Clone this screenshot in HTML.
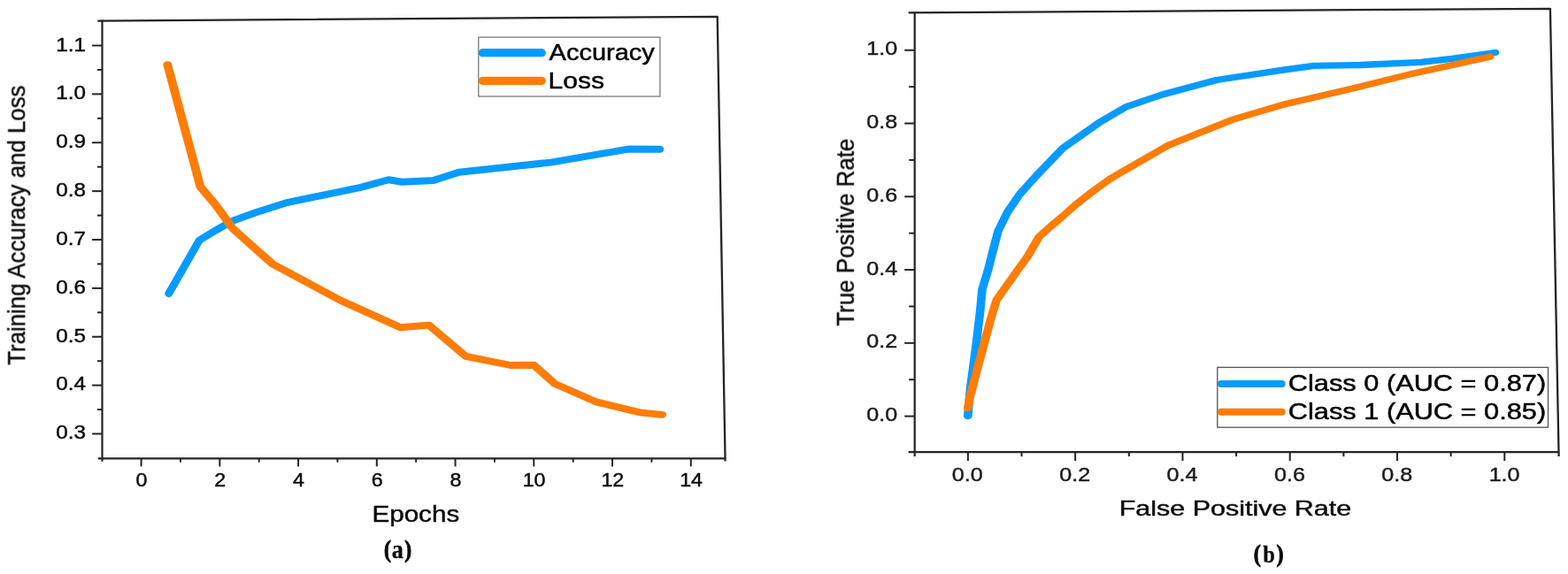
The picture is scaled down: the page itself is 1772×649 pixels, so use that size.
<!DOCTYPE html>
<html lang="en">
<head>
<meta charset="utf-8">
<title>Training accuracy/loss and ROC curves</title>
<style>
html,body{margin:0;padding:0;background:#fff;}
body{width:1772px;height:649px;overflow:hidden;}
svg{display:block;}
text{white-space:pre;}
</style>
</head>
<body>
<svg width="1772" height="649" viewBox="0 0 1772 649">
<rect x="0" y="0" width="1772" height="649" fill="#ffffff"/>
<g id="fig" style="filter:blur(0.45px)">
<line x1="115.50" y1="22.60" x2="115.50" y2="521.80" stroke="#242424" stroke-width="2.2" stroke-linecap="butt"/>
<line x1="110.70" y1="518.40" x2="820.10" y2="518.40" stroke="#242424" stroke-width="2.4" stroke-linecap="butt"/>
<polyline points="110.30,23.60 810.70,18.80 819.60,521.60" fill="none" stroke="#242424" stroke-width="2.3" stroke-linejoin="round"/>
<line x1="104.10" y1="490.50" x2="115.50" y2="490.50" stroke="#242424" stroke-width="2" stroke-linecap="butt"/>
<line x1="110.00" y1="463.06" x2="115.50" y2="463.06" stroke="#242424" stroke-width="2" stroke-linecap="butt"/>
<line x1="104.10" y1="435.62" x2="115.50" y2="435.62" stroke="#242424" stroke-width="2" stroke-linecap="butt"/>
<line x1="110.00" y1="408.19" x2="115.50" y2="408.19" stroke="#242424" stroke-width="2" stroke-linecap="butt"/>
<line x1="104.10" y1="380.75" x2="115.50" y2="380.75" stroke="#242424" stroke-width="2" stroke-linecap="butt"/>
<line x1="110.00" y1="353.31" x2="115.50" y2="353.31" stroke="#242424" stroke-width="2" stroke-linecap="butt"/>
<line x1="104.10" y1="325.87" x2="115.50" y2="325.87" stroke="#242424" stroke-width="2" stroke-linecap="butt"/>
<line x1="110.00" y1="298.44" x2="115.50" y2="298.44" stroke="#242424" stroke-width="2" stroke-linecap="butt"/>
<line x1="104.10" y1="271.00" x2="115.50" y2="271.00" stroke="#242424" stroke-width="2" stroke-linecap="butt"/>
<line x1="110.00" y1="243.56" x2="115.50" y2="243.56" stroke="#242424" stroke-width="2" stroke-linecap="butt"/>
<line x1="104.10" y1="216.12" x2="115.50" y2="216.12" stroke="#242424" stroke-width="2" stroke-linecap="butt"/>
<line x1="110.00" y1="188.69" x2="115.50" y2="188.69" stroke="#242424" stroke-width="2" stroke-linecap="butt"/>
<line x1="104.10" y1="161.25" x2="115.50" y2="161.25" stroke="#242424" stroke-width="2" stroke-linecap="butt"/>
<line x1="110.00" y1="133.81" x2="115.50" y2="133.81" stroke="#242424" stroke-width="2" stroke-linecap="butt"/>
<line x1="104.10" y1="106.38" x2="115.50" y2="106.38" stroke="#242424" stroke-width="2" stroke-linecap="butt"/>
<line x1="110.00" y1="78.94" x2="115.50" y2="78.94" stroke="#242424" stroke-width="2" stroke-linecap="butt"/>
<line x1="104.10" y1="51.50" x2="115.50" y2="51.50" stroke="#242424" stroke-width="2" stroke-linecap="butt"/>
<line x1="159.60" y1="518.40" x2="159.60" y2="527.40" stroke="#242424" stroke-width="2" stroke-linecap="butt"/>
<line x1="248.34" y1="518.40" x2="248.34" y2="527.40" stroke="#242424" stroke-width="2" stroke-linecap="butt"/>
<line x1="337.08" y1="518.40" x2="337.08" y2="527.40" stroke="#242424" stroke-width="2" stroke-linecap="butt"/>
<line x1="425.82" y1="518.40" x2="425.82" y2="527.40" stroke="#242424" stroke-width="2" stroke-linecap="butt"/>
<line x1="514.56" y1="518.40" x2="514.56" y2="527.40" stroke="#242424" stroke-width="2" stroke-linecap="butt"/>
<line x1="603.30" y1="518.40" x2="603.30" y2="527.40" stroke="#242424" stroke-width="2" stroke-linecap="butt"/>
<line x1="692.04" y1="518.40" x2="692.04" y2="527.40" stroke="#242424" stroke-width="2" stroke-linecap="butt"/>
<line x1="780.78" y1="518.40" x2="780.78" y2="527.40" stroke="#242424" stroke-width="2" stroke-linecap="butt"/>
<line x1="203.97" y1="518.40" x2="203.97" y2="522.70" stroke="#242424" stroke-width="2" stroke-linecap="butt"/>
<line x1="292.71" y1="518.40" x2="292.71" y2="522.70" stroke="#242424" stroke-width="2" stroke-linecap="butt"/>
<line x1="381.45" y1="518.40" x2="381.45" y2="522.70" stroke="#242424" stroke-width="2" stroke-linecap="butt"/>
<line x1="470.19" y1="518.40" x2="470.19" y2="522.70" stroke="#242424" stroke-width="2" stroke-linecap="butt"/>
<line x1="558.93" y1="518.40" x2="558.93" y2="522.70" stroke="#242424" stroke-width="2" stroke-linecap="butt"/>
<line x1="647.67" y1="518.40" x2="647.67" y2="522.70" stroke="#242424" stroke-width="2" stroke-linecap="butt"/>
<line x1="736.41" y1="518.40" x2="736.41" y2="522.70" stroke="#242424" stroke-width="2" stroke-linecap="butt"/>
<text transform="translate(63.19 496.19) scale(1.1319 1)" font-size="21.41" font-family="'Liberation Sans', Arial, sans-serif" fill="#0c0c0c" stroke="#0c0c0c" stroke-width="0.45" >0.3</text>
<text transform="translate(63.19 441.36) scale(1.1319 1)" font-size="21.41" font-family="'Liberation Sans', Arial, sans-serif" fill="#0c0c0c" stroke="#0c0c0c" stroke-width="0.45" >0.4</text>
<text transform="translate(63.19 386.54) scale(1.1319 1)" font-size="21.41" font-family="'Liberation Sans', Arial, sans-serif" fill="#0c0c0c" stroke="#0c0c0c" stroke-width="0.45" >0.5</text>
<text transform="translate(63.19 331.71) scale(1.1319 1)" font-size="21.41" font-family="'Liberation Sans', Arial, sans-serif" fill="#0c0c0c" stroke="#0c0c0c" stroke-width="0.45" >0.6</text>
<text transform="translate(63.19 276.89) scale(1.1319 1)" font-size="21.41" font-family="'Liberation Sans', Arial, sans-serif" fill="#0c0c0c" stroke="#0c0c0c" stroke-width="0.45" >0.7</text>
<text transform="translate(63.19 222.06) scale(1.1319 1)" font-size="21.41" font-family="'Liberation Sans', Arial, sans-serif" fill="#0c0c0c" stroke="#0c0c0c" stroke-width="0.45" >0.8</text>
<text transform="translate(63.19 167.24) scale(1.1319 1)" font-size="21.41" font-family="'Liberation Sans', Arial, sans-serif" fill="#0c0c0c" stroke="#0c0c0c" stroke-width="0.45" >0.9</text>
<text transform="translate(63.19 112.41) scale(1.1319 1)" font-size="21.41" font-family="'Liberation Sans', Arial, sans-serif" fill="#0c0c0c" stroke="#0c0c0c" stroke-width="0.45" >1.0</text>
<text transform="translate(63.19 57.59) scale(1.1319 1)" font-size="21.41" font-family="'Liberation Sans', Arial, sans-serif" fill="#0c0c0c" stroke="#0c0c0c" stroke-width="0.45" >1.1</text>
<text transform="translate(153.44 550.27) scale(1.0831 1)" font-size="21.45" font-family="'Liberation Sans', Arial, sans-serif" fill="#0c0c0c" stroke="#0c0c0c" stroke-width="0.45" >0</text>
<text transform="translate(242.18 550.27) scale(1.0831 1)" font-size="21.45" font-family="'Liberation Sans', Arial, sans-serif" fill="#0c0c0c" stroke="#0c0c0c" stroke-width="0.45" >2</text>
<text transform="translate(330.92 550.27) scale(1.0831 1)" font-size="21.45" font-family="'Liberation Sans', Arial, sans-serif" fill="#0c0c0c" stroke="#0c0c0c" stroke-width="0.45" >4</text>
<text transform="translate(419.66 550.27) scale(1.0831 1)" font-size="21.45" font-family="'Liberation Sans', Arial, sans-serif" fill="#0c0c0c" stroke="#0c0c0c" stroke-width="0.45" >6</text>
<text transform="translate(508.40 550.27) scale(1.0831 1)" font-size="21.45" font-family="'Liberation Sans', Arial, sans-serif" fill="#0c0c0c" stroke="#0c0c0c" stroke-width="0.45" >8</text>
<text transform="translate(590.68 550.27) scale(1.0831 1)" font-size="21.45" font-family="'Liberation Sans', Arial, sans-serif" fill="#0c0c0c" stroke="#0c0c0c" stroke-width="0.45" >10</text>
<text transform="translate(679.42 550.27) scale(1.0831 1)" font-size="21.45" font-family="'Liberation Sans', Arial, sans-serif" fill="#0c0c0c" stroke="#0c0c0c" stroke-width="0.45" >12</text>
<text transform="translate(768.16 550.27) scale(1.0831 1)" font-size="21.45" font-family="'Liberation Sans', Arial, sans-serif" fill="#0c0c0c" stroke="#0c0c0c" stroke-width="0.45" >14</text>
<text transform="translate(420.42 589.73) scale(1.1737 1)" font-size="25.25" font-family="'Liberation Sans', Arial, sans-serif" fill="#0c0c0c" stroke="#0c0c0c" stroke-width="0.45" >Epochs</text>
<text transform="translate(28.20 412.76) rotate(-90) scale(0.9618 1)" font-size="26.86" font-family="'Liberation Sans', Arial, sans-serif" fill="#0c0c0c" stroke="#0c0c0c" stroke-width="0.45">Training Accuracy and Loss</text>
<text transform="translate(0 630.60) scale(0.8800 1)" y="0" font-family="'Liberation Serif', 'Times New Roman', serif" font-weight="bold" fill="#0c0c0c" stroke="#0c0c0c"><tspan x="493.22" dy="-0.40" font-size="26.80" stroke-width="1.0">(</tspan><tspan x="503.14" dy="0.40" font-size="29.80" stroke-width="0.3">a</tspan><tspan x="519.54" dy="-0.40" font-size="26.80" stroke-width="1.0">)</tspan></text>
<polyline transform="scale(1.13 1)" points="168.76,332.00 199.29,271.80 215.93,260.30 231.15,250.40 255.13,240.50 285.75,229.40 360.71,211.90 388.50,203.20 401.95,205.80 433.45,204.10 458.94,194.70 550.88,183.60 628.32,168.60 660.00,168.80" fill="none" stroke="#079bff" stroke-width="8.0" stroke-linecap="round" stroke-linejoin="round"/>
<polyline transform="scale(1.24 1)" points="152.66,73.10 182.66,211.30 196.77,232.00 211.69,257.80 230.56,278.80 248.47,298.50 310.08,339.50 364.92,370.30 390.89,367.60 424.44,402.90 465.40,413.00 486.53,412.80 505.65,433.90 543.23,454.40 582.82,466.30 603.31,468.80" fill="none" stroke="#ff7c06" stroke-width="7.9" stroke-linecap="round" stroke-linejoin="round"/>
<rect x="540.8" y="42.1" width="205.1" height="66.9" fill="#fff" stroke="#6e6e6e" stroke-width="1.2"/>
<line x1="545.30" y1="59.70" x2="612.20" y2="59.70" stroke="#079bff" stroke-width="9.2" stroke-linecap="round"/>
<line x1="545.30" y1="91.30" x2="612.20" y2="91.30" stroke="#ff7c06" stroke-width="9.2" stroke-linecap="round"/>
<text transform="translate(620.57 67.95) scale(1.0882 1)" font-size="26.65" font-family="'Liberation Sans', Arial, sans-serif" fill="#000" stroke="#000" stroke-width="0.45" >Accuracy</text>
<text transform="translate(619.58 99.81) scale(1.1349 1)" font-size="26.45" font-family="'Liberation Sans', Arial, sans-serif" fill="#000" stroke="#000" stroke-width="0.45" >Loss</text>
<line x1="1033.70" y1="13.40" x2="1033.70" y2="515.90" stroke="#242424" stroke-width="2.2" stroke-linecap="butt"/>
<line x1="1026.70" y1="511.10" x2="1762.10" y2="511.10" stroke="#242424" stroke-width="2.3" stroke-linecap="butt"/>
<polyline points="1026.70,14.40 1751.90,9.80 1761.60,515.90" fill="none" stroke="#242424" stroke-width="2.3" stroke-linejoin="round"/>
<line x1="1022.20" y1="470.60" x2="1033.70" y2="470.60" stroke="#242424" stroke-width="2" stroke-linecap="butt"/>
<line x1="1093.90" y1="511.10" x2="1093.90" y2="521.10" stroke="#242424" stroke-width="2" stroke-linecap="butt"/>
<line x1="1022.20" y1="387.83" x2="1033.70" y2="387.83" stroke="#242424" stroke-width="2" stroke-linecap="butt"/>
<line x1="1215.18" y1="511.10" x2="1215.18" y2="521.10" stroke="#242424" stroke-width="2" stroke-linecap="butt"/>
<line x1="1022.20" y1="305.06" x2="1033.70" y2="305.06" stroke="#242424" stroke-width="2" stroke-linecap="butt"/>
<line x1="1336.46" y1="511.10" x2="1336.46" y2="521.10" stroke="#242424" stroke-width="2" stroke-linecap="butt"/>
<line x1="1022.20" y1="222.29" x2="1033.70" y2="222.29" stroke="#242424" stroke-width="2" stroke-linecap="butt"/>
<line x1="1457.74" y1="511.10" x2="1457.74" y2="521.10" stroke="#242424" stroke-width="2" stroke-linecap="butt"/>
<line x1="1022.20" y1="139.52" x2="1033.70" y2="139.52" stroke="#242424" stroke-width="2" stroke-linecap="butt"/>
<line x1="1579.02" y1="511.10" x2="1579.02" y2="521.10" stroke="#242424" stroke-width="2" stroke-linecap="butt"/>
<line x1="1022.20" y1="56.75" x2="1033.70" y2="56.75" stroke="#242424" stroke-width="2" stroke-linecap="butt"/>
<line x1="1700.30" y1="511.10" x2="1700.30" y2="521.10" stroke="#242424" stroke-width="2" stroke-linecap="butt"/>
<line x1="1027.20" y1="429.22" x2="1033.70" y2="429.22" stroke="#242424" stroke-width="2" stroke-linecap="butt"/>
<line x1="1154.54" y1="511.10" x2="1154.54" y2="516.10" stroke="#242424" stroke-width="2" stroke-linecap="butt"/>
<line x1="1027.20" y1="346.44" x2="1033.70" y2="346.44" stroke="#242424" stroke-width="2" stroke-linecap="butt"/>
<line x1="1275.82" y1="511.10" x2="1275.82" y2="516.10" stroke="#242424" stroke-width="2" stroke-linecap="butt"/>
<line x1="1027.20" y1="263.68" x2="1033.70" y2="263.68" stroke="#242424" stroke-width="2" stroke-linecap="butt"/>
<line x1="1397.10" y1="511.10" x2="1397.10" y2="516.10" stroke="#242424" stroke-width="2" stroke-linecap="butt"/>
<line x1="1027.20" y1="180.90" x2="1033.70" y2="180.90" stroke="#242424" stroke-width="2" stroke-linecap="butt"/>
<line x1="1518.38" y1="511.10" x2="1518.38" y2="516.10" stroke="#242424" stroke-width="2" stroke-linecap="butt"/>
<line x1="1027.20" y1="98.13" x2="1033.70" y2="98.13" stroke="#242424" stroke-width="2" stroke-linecap="butt"/>
<line x1="1639.66" y1="511.10" x2="1639.66" y2="516.10" stroke="#242424" stroke-width="2" stroke-linecap="butt"/>
<text transform="translate(979.25 476.15) scale(1.1152 1)" font-size="22.54" font-family="'Liberation Sans', Arial, sans-serif" fill="#1b1b20" stroke="#1b1b20" stroke-width="0.45" >0.0</text>
<text transform="translate(979.25 393.38) scale(1.1152 1)" font-size="22.54" font-family="'Liberation Sans', Arial, sans-serif" fill="#1b1b20" stroke="#1b1b20" stroke-width="0.45" >0.2</text>
<text transform="translate(979.25 310.61) scale(1.1152 1)" font-size="22.54" font-family="'Liberation Sans', Arial, sans-serif" fill="#1b1b20" stroke="#1b1b20" stroke-width="0.45" >0.4</text>
<text transform="translate(979.25 227.84) scale(1.1152 1)" font-size="22.54" font-family="'Liberation Sans', Arial, sans-serif" fill="#1b1b20" stroke="#1b1b20" stroke-width="0.45" >0.6</text>
<text transform="translate(979.25 145.07) scale(1.1152 1)" font-size="22.54" font-family="'Liberation Sans', Arial, sans-serif" fill="#1b1b20" stroke="#1b1b20" stroke-width="0.45" >0.8</text>
<text transform="translate(979.25 62.30) scale(1.1152 1)" font-size="22.54" font-family="'Liberation Sans', Arial, sans-serif" fill="#1b1b20" stroke="#1b1b20" stroke-width="0.45" >1.0</text>
<text transform="translate(1075.85 544.06) scale(1.1435 1)" font-size="21.98" font-family="'Liberation Sans', Arial, sans-serif" fill="#1b1b20" stroke="#1b1b20" stroke-width="0.45" >0.0</text>
<text transform="translate(1197.21 544.06) scale(1.1435 1)" font-size="21.98" font-family="'Liberation Sans', Arial, sans-serif" fill="#1b1b20" stroke="#1b1b20" stroke-width="0.45" >0.2</text>
<text transform="translate(1318.57 544.06) scale(1.1435 1)" font-size="21.98" font-family="'Liberation Sans', Arial, sans-serif" fill="#1b1b20" stroke="#1b1b20" stroke-width="0.45" >0.4</text>
<text transform="translate(1439.93 544.06) scale(1.1435 1)" font-size="21.98" font-family="'Liberation Sans', Arial, sans-serif" fill="#1b1b20" stroke="#1b1b20" stroke-width="0.45" >0.6</text>
<text transform="translate(1561.29 544.06) scale(1.1435 1)" font-size="21.98" font-family="'Liberation Sans', Arial, sans-serif" fill="#1b1b20" stroke="#1b1b20" stroke-width="0.45" >0.8</text>
<text transform="translate(1682.65 544.06) scale(1.1435 1)" font-size="21.98" font-family="'Liberation Sans', Arial, sans-serif" fill="#1b1b20" stroke="#1b1b20" stroke-width="0.45" >1.0</text>
<text transform="translate(1264.67 583.13) scale(1.2553 1)" font-size="24.29" font-family="'Liberation Sans', Arial, sans-serif" fill="#0c0c0c" stroke="#0c0c0c" stroke-width="0.45" >False Positive Rate</text>
<text transform="translate(964.90 368.67) rotate(-90) scale(0.9547 1)" font-size="27.14" font-family="'Liberation Sans', Arial, sans-serif" fill="#0c0c0c" stroke="#0c0c0c" stroke-width="0.45">True Positive Rate</text>
<text transform="translate(0 635.80) scale(0.8800 1)" y="0" font-family="'Liberation Serif', 'Times New Roman', serif" font-weight="bold" fill="#0c0c0c" stroke="#0c0c0c"><tspan x="1609.86" dy="-0.90" font-size="27.50" stroke-width="1.0">(</tspan><tspan x="1621.99" dy="0.90" font-size="27.80" stroke-width="0.3">b</tspan><tspan x="1639.15" dy="-0.90" font-size="27.50" stroke-width="1.0">)</tspan></text>
<polyline transform="scale(1.32 1)" points="828.64,470.60 830.68,440.00 833.18,415.00 835.68,390.00 839.17,351.60 840.91,327.00 845.91,305.40 849.24,288.00 854.55,261.20 862.58,239.80 873.03,219.60 886.74,199.50 910.23,167.20 940.98,138.70 964.02,120.80 994.92,107.00 1041.52,90.50 1098.48,79.10 1124.85,74.30 1164.70,73.50 1216.14,70.40 1243.11,66.40 1279.92,59.50" fill="none" stroke="#079bff" stroke-width="7.3" stroke-linecap="round" stroke-linejoin="round"/>
<polyline transform="scale(1.32 1)" points="828.64,461.50 830.15,450.00 832.20,440.00 837.12,415.00 842.27,390.00 848.56,359.30 853.18,339.30 863.11,320.80 871.29,305.40 879.55,290.50 889.70,267.60 899.02,256.50 909.85,244.50 921.74,230.60 935.61,216.40 950.76,201.80 999.77,164.60 1056.21,134.80 1100.30,117.70 1159.77,99.50 1208.79,83.40 1255.38,70.10 1275.61,64.20" fill="none" stroke="#ff7c06" stroke-width="7.3" stroke-linecap="round" stroke-linejoin="round"/>
<rect x="1375.8" y="415.4" width="373.7" height="67.8" fill="#fff" stroke="#555" stroke-width="1.3"/>
<line x1="1380.00" y1="434.00" x2="1448.60" y2="434.00" stroke="#079bff" stroke-width="8" stroke-linecap="round"/>
<line x1="1380.00" y1="465.70" x2="1448.60" y2="465.70" stroke="#ff7c06" stroke-width="8" stroke-linecap="round"/>
<text transform="translate(1455.84 441.60) scale(1.2339 1)" font-size="24.93" font-family="'Liberation Sans', Arial, sans-serif" fill="#000" stroke="#000" stroke-width="0.45" >Class 0 (AUC = 0.87)</text>
<text transform="translate(1455.84 473.50) scale(1.2339 1)" font-size="24.93" font-family="'Liberation Sans', Arial, sans-serif" fill="#000" stroke="#000" stroke-width="0.45" >Class 1 (AUC = 0.85)</text>
</g>
</svg>
</body>
</html>
